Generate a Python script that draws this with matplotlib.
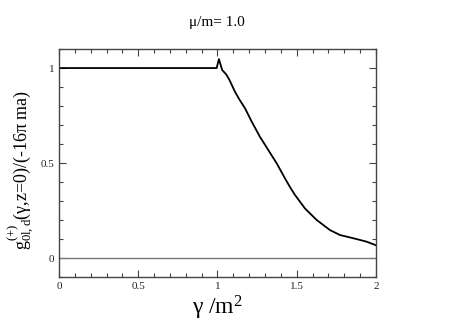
import matplotlib
matplotlib.use('Agg')
import matplotlib.pyplot as plt
from matplotlib.ticker import MultipleLocator

plt.rcParams['font.family'] = 'Liberation Serif'
plt.rcParams['mathtext.fontset'] = 'custom'
plt.rcParams['mathtext.rm'] = 'Liberation Serif'
plt.rcParams['mathtext.it'] = 'Liberation Serif'

# curve
gamma = [0.0, 0.995, 1.009, 1.030, 1.054, 1.074, 1.110, 1.138, 1.174, 1.216,
         1.268, 1.321, 1.374, 1.426, 1.46, 1.489, 1.552, 1.626, 1.710, 1.773,
         1.857, 1.941, 2.0]
g_val = [1.0, 1.0, 1.047, 0.989, 0.968, 0.940, 0.876, 0.835, 0.788, 0.718,
         0.638, 0.568, 0.498, 0.419, 0.37, 0.332, 0.261, 0.200, 0.147, 0.121,
         0.104, 0.086, 0.067]

fig = plt.figure(figsize=(4.63, 3.27), dpi=100)
ax = fig.add_axes([0.1274, 0.1529, 0.6846, 0.6971])

ax.axhline(0, color='#777777', lw=1.0)
ax.plot(gamma, g_val, color='black', lw=1.3)

ax.set_xlim(0, 2)
ax.set_ylim(-0.1, 1.1)
ax.xaxis.set_major_locator(MultipleLocator(0.5))
ax.xaxis.set_minor_locator(MultipleLocator(0.1))
ax.yaxis.set_major_locator(MultipleLocator(0.5))
ax.yaxis.set_minor_locator(MultipleLocator(0.1))
ax.xaxis.set_major_formatter(plt.FuncFormatter(lambda v, p: f'{v:g}'))
ax.yaxis.set_major_formatter(plt.FuncFormatter(lambda v, p: f'{v:g}'))
ax.tick_params(which='both', direction='in', top=True, right=True,
               labelsize=8, width=0.8, color='#444444', labelcolor='#222222')
ax.tick_params(which='major', length=5)
ax.tick_params(which='minor', length=3)
for s in ax.spines.values():
    s.set_linewidth(1.0)
    s.set_color('#444444')

ax.set_xlabel('γ /m$^2$', fontsize=17, labelpad=2)
ax.set_ylabel('g$^{(+)}_{0l,d}$(γ,z=0)/(-16π ma)', fontsize=13)
ax.yaxis.set_label_coords(-0.07, 0.47)
fig.text(0.469, 0.93, 'μ/m= 1.0', ha='center', va='center', fontsize=11)

fig.savefig('out.png', dpi=100)
